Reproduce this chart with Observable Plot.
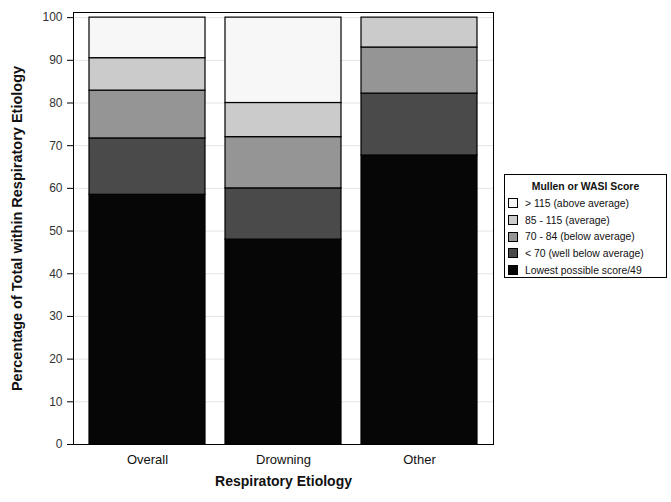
<!DOCTYPE html>
<html>
<head>
<meta charset="utf-8">
<script src="https://cdn.jsdelivr.net/npm/d3@7"></script>
<script src="https://cdn.jsdelivr.net/npm/@observablehq/plot@0.6"></script>
<style>
  body { margin: 0; background: #fff; font-family: Arial, "Liberation Sans", sans-serif; }
  #wrap { position: relative; width: 671px; height: 502px; }
  #legend { position: absolute; left: 504px; top: 174px; width: 163px; height: 104px; border: 1px solid #000; box-sizing: border-box; background: #fff; font-size: 10.4px; color: #111; }
  #legend .title { font-weight: bold; text-align: center; margin-top: 6px; margin-bottom: 3px; }
  #legend .item { display: flex; align-items: center; height: 16.7px; padding-left: 3px; white-space: nowrap; }
  #legend .sw { width: 8px; height: 8px; border: 1px solid #000; margin-right: 7px; flex: none; }
</style>
</head>
<body>
<div id="wrap"><div id="chart"></div><div id="legend"></div></div>
<script>
const categories = ["Overall", "Drowning", "Other"];
const scoreGroups = ["Lowest possible score/49", "< 70 (well below average)", "70 - 84 (below average)", "85 - 115 (average)", "> 115 (above average)"];
const legendOrder = ["> 115 (above average)", "85 - 115 (average)", "70 - 84 (below average)", "< 70 (well below average)", "Lowest possible score/49"];
const groupColors = ["#060606", "#4a4a4a", "#959595", "#cbcbcb", "#f7f7f7"];
const overallValues = [58.5, 13.2, 11.2, 7.6, 9.5];
const drowningValues = [48, 12, 12, 8, 20];
const otherValues = [67.7, 14.5, 10.8, 7.0, 0];
const yTicks = [0, 10, 20, 30, 40, 50, 60, 70, 80, 90, 100];
const xTitle = "Respiratory Etiology";
const yTitle = "Percentage of Total within Respiratory Etiology";
const legendTitle = "Mullen or WASI Score";

const series = [overallValues, drowningValues, otherValues];
const rows = [];
categories.forEach((c, i) => scoreGroups.forEach((g, j) => rows.push({category: c, group: g, value: series[i][j]})));

const chart = Plot.plot({
  width: 671,
  height: 502,
  marginLeft: 73,
  marginRight: 178,
  marginTop: 12,
  marginBottom: 58,
  style: {fontFamily: "Arial, 'Liberation Sans', sans-serif", fontSize: "12px", color: "#333", overflow: "visible"},
  x: {domain: categories, paddingInner: 0.15, paddingOuter: 0.11, label: null},
  y: {domain: [0, 101.2], label: null},
  color: {domain: scoreGroups, range: groupColors},
  marks: [
    Plot.ruleY(yTicks.slice(1), {stroke: "#e4e4e4", strokeWidth: 1}),
    Plot.barY(rows, {x: "category", y: "value", fill: "group", stroke: "#000", strokeWidth: 1.2}),
    Plot.frame({stroke: "#000", strokeWidth: 1}),
    Plot.axisY({ticks: yTicks, tickSize: 6, tickPadding: 5, label: null, fontSize: 12, stroke: "#000"}),
    Plot.axisX({tickSize: 0, tickPadding: 10, label: null, fontSize: 13, fill: "#111"}),
    Plot.text([xTitle], {frameAnchor: "bottom", dy: 41, fontWeight: "bold", fontSize: 14, fill: "#111"}),
    Plot.text([yTitle], {frameAnchor: "left", dx: -56, rotate: -90, textAnchor: "middle", fontWeight: "bold", fontSize: 14.5, fill: "#111"})
  ]
});
document.getElementById("chart").appendChild(chart);

const lg = document.getElementById("legend");
const t = document.createElement("div");
t.className = "title"; t.textContent = legendTitle; lg.appendChild(t);
legendOrder.forEach(g => {
  const it = document.createElement("div"); it.className = "item";
  const sw = document.createElement("span"); sw.className = "sw";
  sw.style.background = groupColors[scoreGroups.indexOf(g)];
  const tx = document.createElement("span"); tx.textContent = g;
  it.appendChild(sw); it.appendChild(tx); lg.appendChild(it);
});
</script>
</body>
</html>
